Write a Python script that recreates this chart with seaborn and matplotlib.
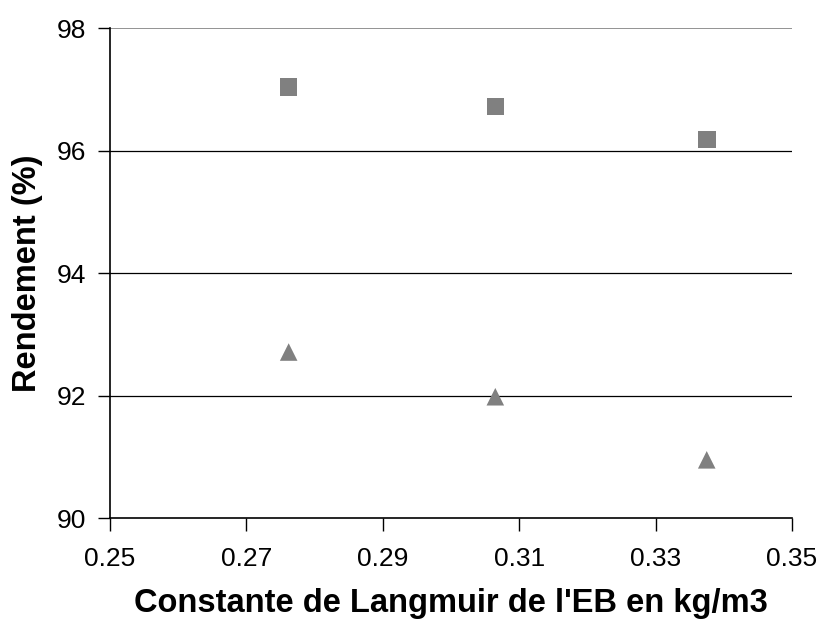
import pandas as pd
import matplotlib
matplotlib.use('Agg')
import matplotlib.pyplot as plt
import seaborn as sns

# values
langmuir = [0.2762, 0.3065, 0.3375]
rend_carres = [97.04, 96.72, 96.18]
rend_triangles = [92.71, 91.98, 90.95]

df = pd.DataFrame({
    'Langmuir': langmuir * 2,
    'Rendement': rend_carres + rend_triangles,
    'Serie': ['carre'] * 3 + ['triangle'] * 3,
})

sns.set_style('white')
plt.rcParams['font.family'] = ['Liberation Sans', 'DejaVu Sans']
plt.rcParams['text.color'] = 'black'
plt.rcParams['axes.labelcolor'] = 'black'
plt.rcParams['xtick.color'] = 'black'
plt.rcParams['ytick.color'] = 'black'

fig = plt.figure(figsize=(8.19, 6.2), dpi=100)
ax = fig.add_axes([0.1343, 0.1645, 0.8327, 0.7903])

sns.scatterplot(
    data=df, x='Langmuir', y='Rendement', style='Serie',
    markers={'carre': 's', 'triangle': '^'}, color='#808080',
    s=160, linewidth=0, legend=False, ax=ax, zorder=3
)

ax.set_xlim(0.25, 0.35)
ax.set_ylim(90, 98)
ax.set_xticks([0.25, 0.27, 0.29, 0.31, 0.33, 0.35])
ax.set_yticks([90, 92, 94, 96, 98])
ax.set_xticklabels(['0.25', '0.27', '0.29', '0.31', '0.33', '0.35'])
ax.set_yticklabels(['90', '92', '94', '96', '98'])

for y in [92, 94, 96]:
    ax.axhline(y, color='black', lw=0.9, zorder=1)
ax.axhline(98, color='#808080', lw=1.2, zorder=1)

for side in ['top', 'right']:
    ax.spines[side].set_visible(False)
for side in ['left', 'bottom']:
    ax.spines[side].set_color('black')
    ax.spines[side].set_linewidth(1.2)

ax.tick_params(axis='both', direction='out', length=9, width=1, colors='black',
               labelsize=19, bottom=True, left=True)
ax.tick_params(axis='x', pad=12)
ax.tick_params(axis='y', pad=8)
ax.set_xlabel("Constante de Langmuir de l'EB en kg/m3", fontsize=23.5, fontweight='bold', labelpad=12)
ax.set_ylabel('Rendement (%)', fontsize=23.5, fontweight='bold', labelpad=10)

plt.savefig('out.png', dpi=100)
plt.close()
